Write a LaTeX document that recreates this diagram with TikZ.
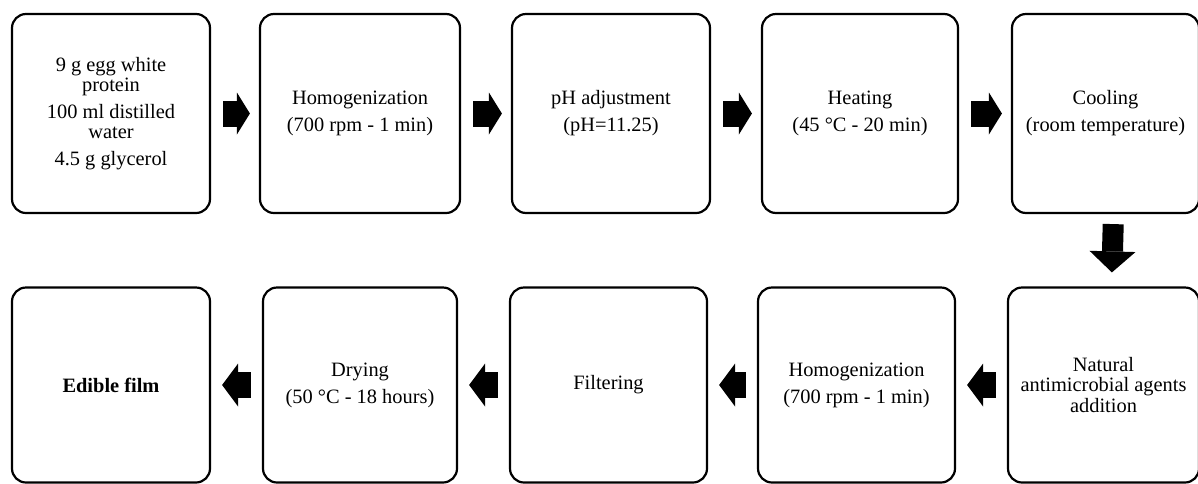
\documentclass[tikz,border=0pt]{standalone}
\usepackage{fontspec}
\setmainfont{Liberation Serif}
\usetikzlibrary{arrows.meta}

\begin{document}
\begin{tikzpicture}[x=0.5pt,y=-0.5pt,
  stepbox/.style={draw=black, line width=1.1pt, rounded corners=7pt,
    minimum width=99pt, minimum height=99.5pt, align=center, inner sep=2pt,
    font=\fontsize{10.2}{10.3}\selectfont},
  fwdarrow/.style={line width=13pt, -{Triangle[length=6.5pt,width=21pt,line width=0pt]},
    shorten <=6pt, shorten >=4.5pt},
  backarrow/.style={line width=13pt, -{Triangle[length=8pt,width=21.5pt,line width=0pt]},
    shorten <=5.5pt, shorten >=5.5pt},
  downarrow/.style={line width=10.5pt, -{Triangle[length=10.5pt,width=23pt,line width=0pt]},
    shorten <=5pt, shorten >=7pt}]
\useasboundingbox (0,0) rectangle (1198,483);
% first row
\node [stepbox] (mix) at (111,113.5) {9 g egg white\\protein\\[3pt]100 ml distilled\\water\\[3pt]4.5 g glycerol};
\node [stepbox, minimum width=100pt] (homa) at (360,113.5) {Homogenization\\[3.2pt](700 rpm - 1 min)};
\node [stepbox] (ph) at (611,113.5) {pH adjustment\\[3.2pt](pH=11.25)};
\node [stepbox, minimum width=98pt] (heat) at (860,113.5) {Heating\\[3.2pt](45 °C - 20 min)};
\node [stepbox, minimum width=93.5pt] (cool) at (1105.5,113.5) {Cooling\\[3.2pt](room temperature)};
% second row
\node [stepbox, minimum height=97.5pt] (film) at (111,385) {\textbf{Edible film}};
\node [stepbox, minimum width=97pt, minimum height=97.5pt] (dry) at (360,385) {Drying\\[3.2pt](50 °C - 18 hours)};
\node [stepbox, minimum width=98.5pt, minimum height=97.5pt] (filt) at (608.5,385) {Filtering};
\node [stepbox, minimum width=98.5pt, minimum height=97.5pt] (homb) at (856.5,385) {Homogenization\\[3.2pt](700 rpm - 1 min)};
\node [stepbox, minimum width=95.5pt, minimum height=97.5pt] (nat) at (1103.5,385) {Natural\\antimicrobial agents\\addition};
% arrows
\draw [fwdarrow] (mix) -- (homa);
\draw [fwdarrow] (homa) -- (ph);
\draw [fwdarrow] (ph) -- (heat);
\draw [fwdarrow] (heat) -- (cool);
\draw [downarrow] ([xshift=4pt]cool.south) -- ([xshift=4pt]nat.north);
\draw [backarrow] (nat) -- (homb);
\draw [backarrow] (homb) -- (filt);
\draw [backarrow] (filt) -- (dry);
\draw [backarrow] (dry) -- (film);
\end{tikzpicture}
\end{document}
